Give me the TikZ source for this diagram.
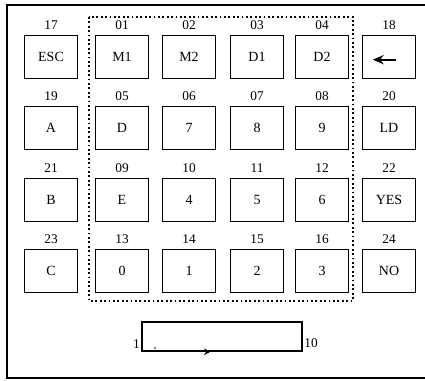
\documentclass[tikz,border=0pt]{standalone}
\usepackage{fontspec}
\setmainfont{Liberation Serif}
\usetikzlibrary{arrows.meta}
\tikzset{
  key/.style={draw, line width=1.1pt, minimum width=39.5pt, minimum height=32pt, inner sep=0pt, font=\fontsize{10.5}{12}\selectfont},
  keyno/.style={inner sep=1pt, font=\fontsize{10}{12}\selectfont},
  padframe/.style={line width=1.3pt, dash pattern=on 1.3pt off 2pt},
}
\begin{document}
\begin{tikzpicture}[x=0.75pt, y=-0.75pt]
\useasboundingbox (0,0) rectangle (425,380);
\draw[line width=1.1pt] (7,5) rectangle (428,378);
% numeric / function block
\draw[padframe] (89,17) rectangle (353,301);
% keys: number / x / y / caption
\foreach \n/\x/\y/\t in {17/51/57/ESC, 01/122/57/M1, 02/189/57/M2, 03/257/57/D1, 04/322/57/D2, 18/389/57/{},
  19/51/128/A, 05/122/128/D, 06/189/128/7, 07/257/128/8, 08/322/128/9, 20/389/128/LD,
  21/51/200/B, 09/122/200/E, 10/189/200/4, 11/257/200/5, 12/322/200/6, 22/389/200/YES,
  23/51/271/C, 13/122/271/0, 14/189/271/1, 15/257/271/2, 16/322/271/3, 24/389/271/NO} {
  \node[key] (k\n) at (\x,\y) {\t};
  \node[keyno] (n\n) at (\x,\y-32) {\n};
}
\draw[line width=1.4pt, -{Stealth[length=8pt, width=7pt]}] ([xshift=5pt, yshift=-2pt]k18.center) -- ([xshift=-12pt, yshift=-2pt]k18.center);
% slider
\node[draw, line width=1.1pt, minimum width=120pt, minimum height=21.75pt, inner sep=0pt] (bar) at (222,336.5) {};
\node[keyno, anchor=east] (lo) at ([yshift=-6pt]bar.west) {1};
\node[keyno, anchor=west] (hi) at ([yshift=-5pt]bar.east) {10};
\draw[line width=1.1pt, -{Stealth[length=5pt, width=5pt]}] (bar.south west) -- ([xshift=52pt]bar.south west);
\fill (155,348) circle (0.7pt);
\end{tikzpicture}
\end{document}
